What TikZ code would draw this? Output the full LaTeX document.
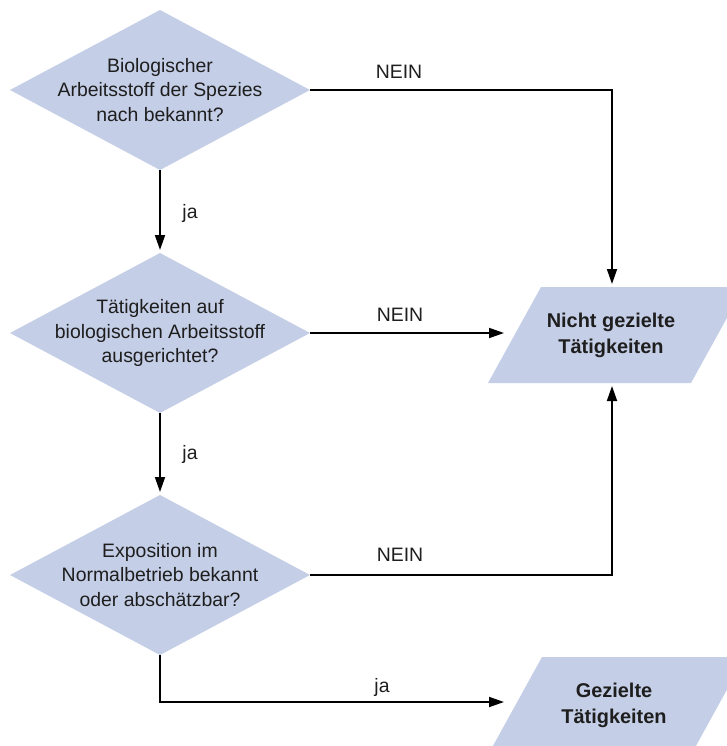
\documentclass[tikz,border=0pt]{standalone}
\usepackage{fontspec}
\setmainfont{Liberation Sans}
\usetikzlibrary{shapes.geometric,arrows.meta}

\definecolor{boxfill}{HTML}{C4CEE6}
\definecolor{inkcol}{HTML}{1E1E1E}

\tikzset{
  decision/.style={diamond, fill=boxfill, draw=none, inner sep=0pt, outer sep=0pt,
    minimum width=300bp, minimum height=160bp},
  qtext/.style={align=center, text=inkcol, inner sep=0pt,
    font=\fontsize{19.5}{25}\selectfont},
  restext/.style={align=center, text=inkcol, inner sep=0pt,
    font=\fontsize{20}{26}\selectfont\bfseries},
  edgelabel/.style={text=inkcol, inner sep=0pt, font=\fontsize{19.5}{24}\selectfont},
  flow/.style={draw=black, line width=1.8bp, -{Triangle[length=15bp,width=10bp]}},
}

\begin{document}
\begin{tikzpicture}[x=1bp, y=-1bp]
  \useasboundingbox (0,0) rectangle (727,746);
  \clip (0,0) rectangle (727,746);

  % decisions
  \node[decision, label={[qtext]center:Biologischer\\Arbeitsstoff der Spezies\\nach bekannt?}] (d1) at (160,90) {};
  \node[decision, label={[qtext]center:Tätigkeiten auf\\biologischen Arbeitsstoff\\ausgerichtet?}] (d2) at (160,333) {};
  \node[decision, label={[qtext]center:Exposition im\\Normalbetrieb bekannt\\oder abschätzbar?}] (d3) at (160,575) {};

  % result parallelograms
  \fill[boxfill] (541,287) -- (744,287) -- (691,383) -- (488,383) -- cycle;
  \fill[boxfill] (542,657) -- (745,657) -- (692,753) -- (489,753) -- cycle;
  \node[restext] (r1) at (611,335) {Nicht gezielte\\Tätigkeiten};
  \node[restext] (r2) at (614,705) {Gezielte\\Tätigkeiten};

  % arrival points on the result shapes
  \coordinate (r1top) at (612,284);
  \coordinate (r1left) at (504,333);
  \coordinate (r1bot) at (612,386);
  \coordinate (r2left) at (504,702);

  % connectors
  \draw[flow] (d1.south) -- ([yshift=3bp]d2.north);
  \draw[flow] (d2.south) -- ([yshift=3bp]d3.north);
  \draw[flow] (d1.east) -| (r1top);
  \draw[flow] (d2.east) -- (r1left);
  \draw[flow] (d3.east) -| (r1bot);
  \draw[flow] (d3.south) |- (r2left);

  % connector labels
  \node[edgelabel] (l1) at (190,213) {ja};
  \node[edgelabel] (l2) at (190,454) {ja};
  \node[edgelabel] (l3) at (382,687) {ja};
  \node[edgelabel] (n1) at (399,72) {NEIN};
  \node[edgelabel] (n2) at (400,315) {NEIN};
  \node[edgelabel] (n3) at (400,555) {NEIN};
\end{tikzpicture}
\end{document}
